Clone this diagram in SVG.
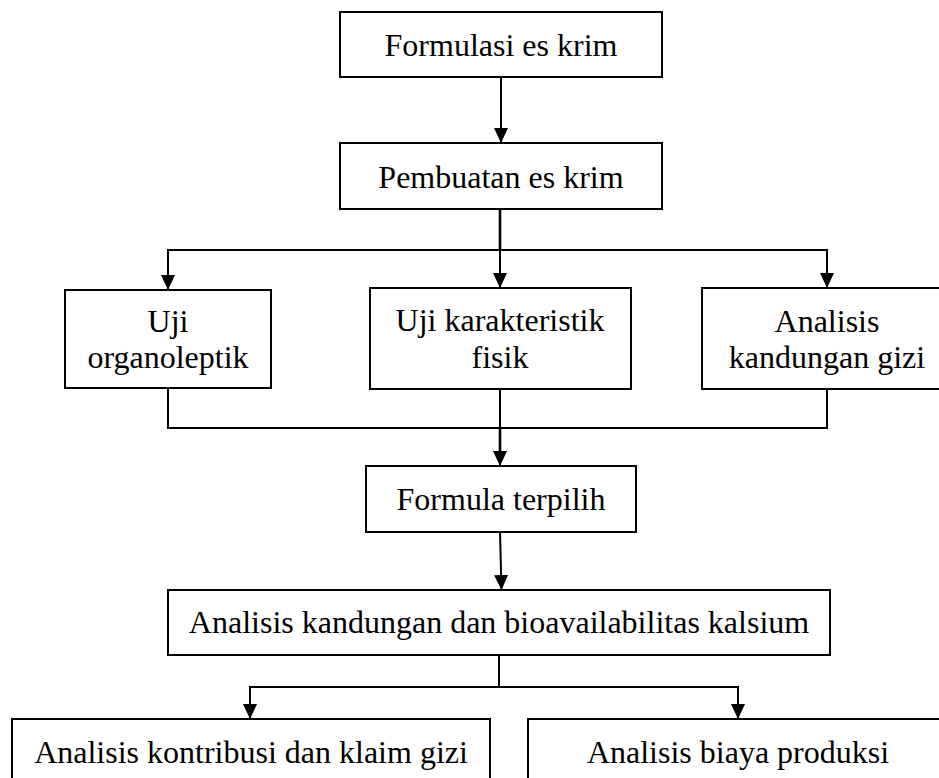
<svg xmlns="http://www.w3.org/2000/svg" width="939" height="778" viewBox="0 0 939 778">
<style>
.box{fill:#fff;stroke:#000;stroke-width:2}
.t{font-family:"Liberation Serif","Times New Roman",serif;font-size:32px;fill:#000;text-anchor:middle}
.c{fill:none;stroke:#000;stroke-width:2}
</style>
<defs>
<marker id="ah" markerUnits="userSpaceOnUse" markerWidth="16" markerHeight="16" refX="15" refY="7" orient="auto">
<path d="M0,0 L15,7 L0,14 z" fill="#000"/>
</marker>
</defs>
<rect width="939" height="778" fill="#fff"/>
<g id="connectors">
<line class="c" x1="501" y1="77" x2="501" y2="143" marker-end="url(#ah)"/>
<line class="c" x1="500" y1="209" x2="500" y2="250" style="stroke-width:2.6"/>
<line class="c" x1="167" y1="250" x2="828" y2="250"/>
<line class="c" x1="168" y1="250" x2="168" y2="290" marker-end="url(#ah)"/>
<line class="c" x1="500" y1="250" x2="500" y2="288" marker-end="url(#ah)"/>
<line class="c" x1="827" y1="250" x2="827" y2="288" marker-end="url(#ah)"/>
<polyline class="c" points="168,388 168,428 827,428 827,389"/>
<line class="c" x1="500" y1="389" x2="500" y2="466" marker-end="url(#ah)"/>
<line class="c" x1="500" y1="428" x2="500" y2="453" style="stroke-width:2.6"/>
<line class="c" x1="500" y1="532" x2="501.5" y2="590" marker-end="url(#ah)"/>
<line class="c" x1="499" y1="655" x2="499" y2="687"/>
<polyline class="c" points="250,705 250,687 738,687 738,705"/>
<line class="c" x1="250" y1="687" x2="250" y2="719" marker-end="url(#ah)"/>
<line class="c" x1="738" y1="687" x2="738" y2="719" marker-end="url(#ah)"/>
</g>
<g id="n1"><rect class="box" x="340" y="12" width="322" height="65"/><text class="t" x="501" y="56">Formulasi es krim</text></g>
<g id="n2"><rect class="box" x="340" y="143" width="322" height="66"/><text class="t" x="501" y="188">Pembuatan es krim</text></g>
<g id="n3"><rect class="box" x="65" y="290" width="206" height="98"/><text class="t" x="168" y="332">Uji</text><text class="t" x="168" y="368">organoleptik</text></g>
<g id="n4"><rect class="box" x="370" y="288" width="261" height="101"/><text class="t" x="500" y="331">Uji karakteristik</text><text class="t" x="500" y="368">fisik</text></g>
<g id="n5"><rect class="box" x="702" y="288" width="250" height="101"/><text class="t" x="827" y="332">Analisis</text><text class="t" x="827" y="368">kandungan gizi</text></g>
<g id="n6"><rect class="box" x="366" y="466" width="270" height="66"/><text class="t" x="501" y="510">Formula terpilih</text></g>
<g id="n7"><rect class="box" x="168" y="590" width="662" height="65"/><text class="t" x="499" y="633">Analisis kandungan dan bioavailabilitas kalsium</text></g>
<g id="n8"><rect class="box" x="12" y="719" width="478" height="80"/><text class="t" x="251" y="763">Analisis kontribusi dan klaim gizi</text></g>
<g id="n9"><rect class="box" x="528" y="719" width="420" height="80"/><text class="t" x="738" y="763">Analisis biaya produksi</text></g>
</svg>
